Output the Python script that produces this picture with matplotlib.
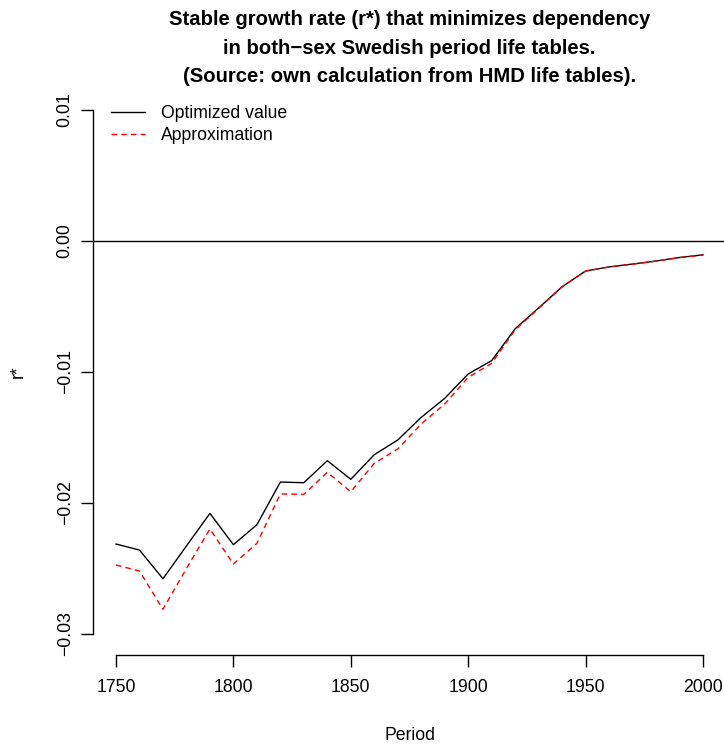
import matplotlib
matplotlib.use("Agg")
import matplotlib.pyplot as plt

# Stable growth rate r* by decade, Swedish both-sex period life tables
periods = [1750, 1760, 1770, 1780, 1790, 1800, 1810, 1820, 1830, 1840,
           1850, 1860, 1870, 1880, 1890, 1900, 1910, 1920, 1930, 1940,
           1950, 1960, 1970, 1980, 1990, 2000]
optimized = [-0.02313, -0.02359, -0.02578, -0.02328, -0.02079, -0.02318,
             -0.02166, -0.01840, -0.01845, -0.01677, -0.01819, -0.01631,
             -0.01519, -0.01346, -0.01201, -0.01015, -0.00913, -0.00670,
             -0.00511, -0.00349, -0.00229, -0.00198, -0.00176, -0.00153,
             -0.00126, -0.00106]
approximation = [-0.02473, -0.02519, -0.02811, -0.02500, -0.02198, -0.02466,
                 -0.02308, -0.01931, -0.01934, -0.01766, -0.01914, -0.01697,
                 -0.01588, -0.01397, -0.01244, -0.01041, -0.00934, -0.00678,
                 -0.00515, -0.00350, -0.00230, -0.00199, -0.00177, -0.00154,
                 -0.00127, -0.00107]

x_ticks = [1750, 1800, 1850, 1900, 1950, 2000]
y_ticks = [-0.03, -0.02, -0.01, 0.00, 0.01]
y_tick_labels = ["\u22120.03", "\u22120.02", "\u22120.01", "0.00", "0.01"]

plt.rcParams["font.family"] = ["Liberation Sans", "DejaVu Sans"]

W, H = 724, 745
fig = plt.figure(figsize=(W / 100, H / 100), dpi=100)
ax = fig.add_axes([92.5 / W, (H - 655) / H, 634 / W, 566 / H])

ax.plot(periods, optimized, color="black", lw=1.0, label="Optimized value")
ax.plot(periods, approximation, color="red", lw=1.0, dashes=(4, 3),
        label="Approximation")
ax.axhline(0, color="black", lw=1.0)

ax.set_xlim(1740, 2010)
ax.set_ylim(-0.0316, 0.0116)

for side in ("top", "right"):
    ax.spines[side].set_visible(False)
ax.spines["left"].set_bounds(-0.03, 0.01)
ax.spines["bottom"].set_bounds(1750, 2000)
for side in ("left", "bottom"):
    ax.spines[side].set_linewidth(1.0)

ax.set_xticks(x_ticks)
ax.set_xticklabels([str(v) for v in x_ticks])
ax.set_yticks(y_ticks)
ax.set_yticklabels(y_tick_labels, rotation=90, va="center")
ax.tick_params(axis="both", direction="out", length=8.5, width=1.0,
               labelsize=12.7)
ax.tick_params(axis="x", pad=9)
ax.tick_params(axis="y", pad=5)

ax.set_xlabel("Period", fontsize=12.7, labelpad=22)
ax.set_ylabel("r*", fontsize=12.7, labelpad=21.5)

ax.set_title("Stable growth rate (r*) that minimizes dependency\n"
             "in both\u2212sex Swedish period life tables.\n"
             "(Source: own calculation from HMD life tables).",
             fontsize=14.6, fontweight="bold", linespacing=1.62, pad=5)

ax.legend(loc="upper left", bbox_to_anchor=(0.01, 0.993), frameon=False,
          fontsize=12.7, handlelength=1.9, handletextpad=0.9,
          labelspacing=0.25, borderaxespad=0.3)

fig.savefig("out.png", dpi=100)
